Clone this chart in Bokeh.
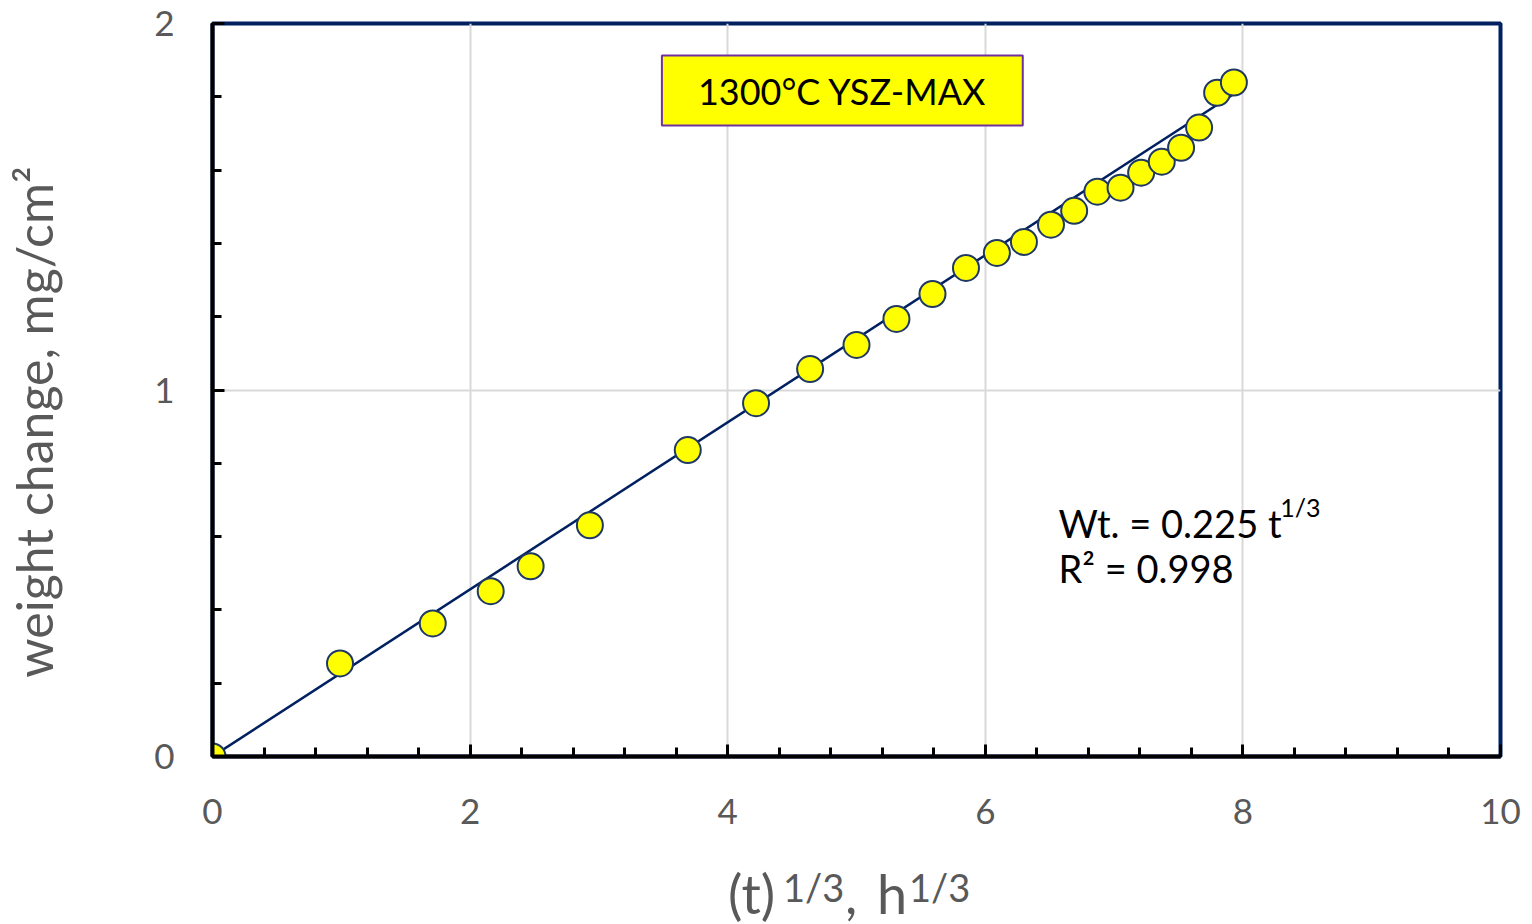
from bokeh.plotting import figure
from bokeh.models import Range1d, SingleIntervalTicker, Label, Div
from bokeh.layouts import column
from bokeh.embed import file_html
from bokeh.resources import INLINE

# ---- data ----
t_cuberoot = [0.0, 0.99, 1.71, 2.16, 2.47, 2.93, 3.69, 4.22, 4.64, 5.00, 5.31,
              5.59, 5.85, 6.09, 6.30, 6.51, 6.69, 6.87, 7.05, 7.21, 7.37, 7.52,
              7.66, 7.80, 7.93]
weight_change = [0.0, 0.254, 0.363, 0.451, 0.519, 0.631, 0.836, 0.964, 1.057,
                 1.123, 1.194, 1.262, 1.333, 1.374, 1.404, 1.451, 1.489, 1.541,
                 1.552, 1.593, 1.623, 1.661, 1.716, 1.811, 1.839]
fit_slope = 0.228
fit_x = [0.0, 7.98]
fit_y = [fit_slope * v for v in fit_x]

x_title_main = "(t)"
x_title_sup = "1/3"
x_title_main2 = ", h"
y_title = "weight change, mg/cm\u00b2"
box_title = "1300\u00b0C YSZ-MAX"
eq_text = "Wt. = 0.225 t"
eq_sup = "1/3"
r2_text = "R\u00b2 = 0.998"

FONT = "Lato"
GREY = "#595959"

p = figure(width=1532, height=860, output_backend="svg", toolbar_location=None,
           x_range=Range1d(0, 10), y_range=Range1d(0, 2),
           min_border_left=212, min_border_right=32, min_border_top=23,
           min_border_bottom=104)

p.background_fill_color = "white"
p.border_fill_color = "white"
p.outline_line_color = "#002060"
p.outline_line_width = 4

p.xaxis.ticker = SingleIntervalTicker(interval=2, num_minor_ticks=5)
p.yaxis.ticker = SingleIntervalTicker(interval=1, num_minor_ticks=5)

for ax in (p.xaxis[0], p.yaxis[0]):
    ax.axis_line_color = "black"
    ax.axis_line_width = 4
    ax.major_tick_line_color = "black"
    ax.major_tick_line_width = 3
    ax.minor_tick_line_color = "black"
    ax.minor_tick_line_width = 3
    ax.major_tick_in = 12
    ax.major_tick_out = 0
    ax.minor_tick_in = 9
    ax.minor_tick_out = 0
    ax.major_label_text_font = FONT
    ax.major_label_text_font_size = "35px"
    ax.major_label_text_color = GREY

p.xaxis.major_label_standoff = 42
p.yaxis.major_label_standoff = 38

p.yaxis.axis_label = y_title + "\u00a0" * 5
p.yaxis.axis_label_text_font = FONT
p.yaxis.axis_label_text_font_size = "50px"
p.yaxis.axis_label_text_font_style = "normal"
p.yaxis.axis_label_text_color = GREY
p.yaxis.axis_label_standoff = 87

p.xgrid.grid_line_color = "#D9D9D9"
p.xgrid.grid_line_width = 2
p.ygrid.grid_line_color = "#D9D9D9"
p.ygrid.grid_line_width = 2

# fit line and points
p.line(fit_x, fit_y, line_color="#002060", line_width=2.5)
p.scatter(t_cuberoot, weight_change, size=26, fill_color="#FFFF00",
          line_color="#1F3864", line_width=2)

# title box
p.add_layout(Label(x=4.89, y=1.817, text=box_title, text_font=FONT,
                   text_font_size="36px", text_color="black",
                   text_align="center", text_baseline="middle",
                   background_fill_color="#FFFF00",
                   border_line_color="#7030A0", border_line_width=2,
                   padding=dict(left=36, right=36, top=13, bottom=13)))

# equation
p.add_layout(Label(x=6.568, y=0.637, text=eq_text, text_font=FONT,
                   text_font_size="38px", text_color="black",
                   text_baseline="alphabetic", text_align="left"))
p.add_layout(Label(x=8.29, y=0.682, text=eq_sup, text_font=FONT,
                   text_font_size="25px", text_color="black",
                   text_baseline="alphabetic", text_align="left"))
p.add_layout(Label(x=6.568, y=0.514, text=r2_text, text_font=FONT,
                   text_font_size="38px", text_color="black",
                   text_baseline="alphabetic", text_align="left"))

# x-axis title with superscripts (HTML text below the plot)
sup_style = ("display:inline-block;font-size:38px;position:relative;"
             "top:-12px;")
html = (
    '<div style="white-space:nowrap;font-family:Lato;font-size:54px;'
    'color:#595959;line-height:54px;padding-top:7px;padding-left:728px;">'
    f'<span style="display:inline-block;width:55px">{x_title_main}</span>'
    f'<span style="{sup_style}width:62px">{x_title_sup}</span>'
    f'<span style="display:inline-block;width:64px;word-spacing:6px">{x_title_main2}</span>'
    f'<span style="{sup_style}">{x_title_sup}</span>'
    '</div>'
)
div = Div(text=html, width=1532, height=64, margin=(0, 0, 0, 0))

layout = column(p, div, spacing=0)
open("out.html", "w").write(file_html(layout, INLINE))
